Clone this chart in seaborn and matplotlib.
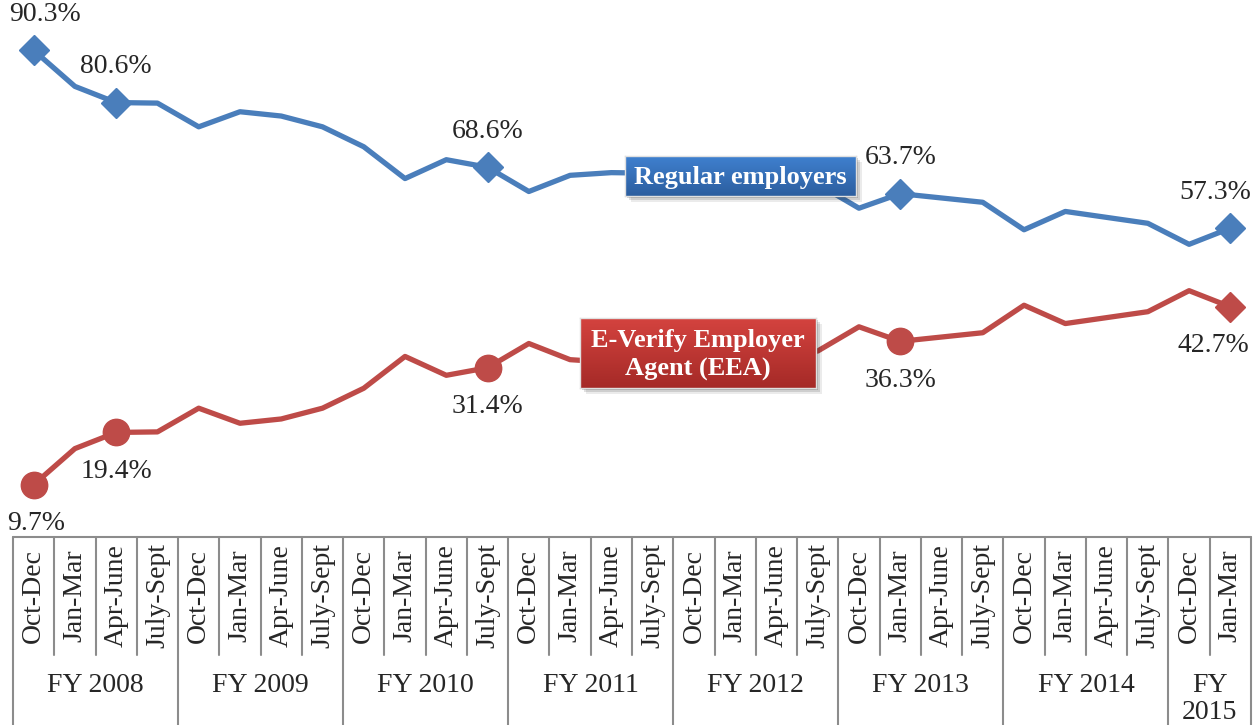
import numpy as np
import pandas as pd
import matplotlib
matplotlib.use("Agg")
import matplotlib.pyplot as plt
import seaborn as sns
from matplotlib.patches import Rectangle

sns.set_theme(style="white")
plt.rcParams["font.family"] = ["Liberation Serif", "DejaVu Serif"]

# quarters, FY2008 Oct-Dec .. FY2015 Jan-Mar
QUARTERS = ["Oct-Dec", "Jan-Mar", "Apr-June", "July-Sept"] * 7 + ["Oct-Dec", "Jan-Mar"]
YEARS = ["FY 2008", "FY 2009", "FY 2010", "FY 2011", "FY 2012", "FY 2013", "FY 2014", "FY\n2015"]
YEAR_SPANS = [4, 4, 4, 4, 4, 4, 4, 2]

REGULAR = [90.3, 83.6, 80.6, 80.5, 76.1, 78.9, 78.1, 76.1, 72.4, 66.5,
           70.0, 68.6, 64.1, 67.1, 67.6, 67.5, 66.8, 66.2, 65.8, 65.5,
           61.0, 63.7, 62.9, 62.1, 57.0, 60.4, 59.3, 58.2, 54.3, 57.3]
EEA = [9.7, 16.4, 19.4, 19.5, 23.9, 21.1, 21.9, 23.9, 27.6, 33.5,
       30.0, 31.4, 35.9, 32.9, 32.4, 32.5, 33.2, 33.8, 34.2, 34.5,
       39.0, 36.3, 37.1, 37.9, 43.0, 39.6, 40.7, 41.8, 45.7, 42.7]
LABELED = [0, 2, 11, 21, 29]

BLUE = "#4A7EBB"
RED = "#BE4B48"
GRID = "#8C8C8C"
W, H = 1253, 725
FS = 20

df = pd.DataFrame({"q": np.arange(len(QUARTERS)), "regular": REGULAR, "eea": EEA})

fig = plt.figure(figsize=(W / 100, H / 100), dpi=100)
ax = fig.add_axes([13 / W, 1 - 537 / H, 1238 / W, 539 / H])

sns.lineplot(data=df, x="q", y="regular", ax=ax, color=BLUE, linewidth=3.8)
sns.lineplot(data=df, x="q", y="eea", ax=ax, color=RED, linewidth=3.8)
ax.plot(df.q, df.regular, linestyle="none", marker="D", markersize=15,
        color=BLUE, markevery=LABELED)
ax.plot(df.q, df.eea, linestyle="none", marker="o", markersize=19,
        color=RED, markevery=LABELED[:-1])
ax.plot(df.q, df.eea, linestyle="none", marker="D", markersize=15,
        color=RED, markevery=LABELED[-1:])

blue_dx = {0: 8, 29: -11}
red_dx = {0: 2, 29: -12}
for i in LABELED:
    ax.annotate(f"{REGULAR[i]:.1f}%", (i, REGULAR[i]), xytext=(blue_dx.get(i, 0), 26),
                textcoords="offset points", ha="center", va="center", fontsize=FS)
    ax.annotate(f"{EEA[i]:.1f}%", (i, EEA[i]), xytext=(red_dx.get(i, 0), -28),
                textcoords="offset points", ha="center", va="center", fontsize=FS)

ax.set_xlim(-0.5, len(QUARTERS) - 0.5)
ax.set_ylim(0, 100)
ax.axis("off")

# category table below the plot
tax = fig.add_axes([13 / W, 0, 1238 / W, 188 / H])
tax.set_xlim(-0.5, len(QUARTERS) - 0.5)
tax.set_ylim(725, 537)
tax.axis("off")
tax.plot([-0.5, len(QUARTERS) - 0.5], [537, 537], color=GRID, lw=1.5, clip_on=False)
bounds = np.cumsum([0] + YEAR_SPANS) - 0.5
for b in np.arange(-0.5, len(QUARTERS)):
    if b in bounds:
        tax.plot([b, b], [537, 725], color=GRID, lw=1.5, clip_on=False)
    else:
        tax.plot([b, b], [537, 655], color=GRID, lw=1.5, clip_on=False)
for i, q in enumerate(QUARTERS):
    tax.text(i, 596, q, rotation=90, ha="center", va="center", fontsize=FS)
for k, yr in enumerate(YEARS):
    c = (bounds[k] + bounds[k + 1]) / 2
    if "\n" in yr:
        tax.text(c, 699, yr, ha="center", va="center", fontsize=FS, linespacing=1.15)
    else:
        tax.text(c, 685, yr, ha="center", va="center", fontsize=FS)


def draw_box(x0, y0, x1, y1, top, bottom, text):
    # soft shadow then a vertical gradient panel with the label
    for off, a in [(6, 0.08), (4, 0.12), (2, 0.18)]:
        fig.patches.append(Rectangle(((x0 + off) / W, 1 - (y1 + off) / H),
                                     (x1 - x0) / W, (y1 - y0) / H,
                                     transform=fig.transFigure, color="black",
                                     alpha=a, lw=0, zorder=5))
    bx = fig.add_axes([x0 / W, 1 - y1 / H, (x1 - x0) / W, (y1 - y0) / H], zorder=10)
    c0 = np.array(matplotlib.colors.to_rgb(top))
    c1 = np.array(matplotlib.colors.to_rgb(bottom))
    t = np.linspace(0, 1, 64)[:, None]
    grad = (c0[None, :] * (1 - t) + c1[None, :] * t)[:, None, :]
    bx.imshow(grad, aspect="auto", extent=(0, 1, 0, 1), origin="upper")
    bx.set_xticks([])
    bx.set_yticks([])
    for s in bx.spines.values():
        s.set_color("#E0E0E0")
        s.set_linewidth(1.0)
    bx.text(0.5, 0.47, text, ha="center", va="center", color="white",
            fontsize=19, fontweight="bold", linespacing=1.35, transform=bx.transAxes)


draw_box(625, 156, 856, 196, "#3F80CF", "#2C5E9F", "Regular employers")
draw_box(580, 318, 816, 388, "#D4433F", "#A52A27", "E-Verify Employer\nAgent (EEA)")

fig.savefig("out.png", dpi=100)
